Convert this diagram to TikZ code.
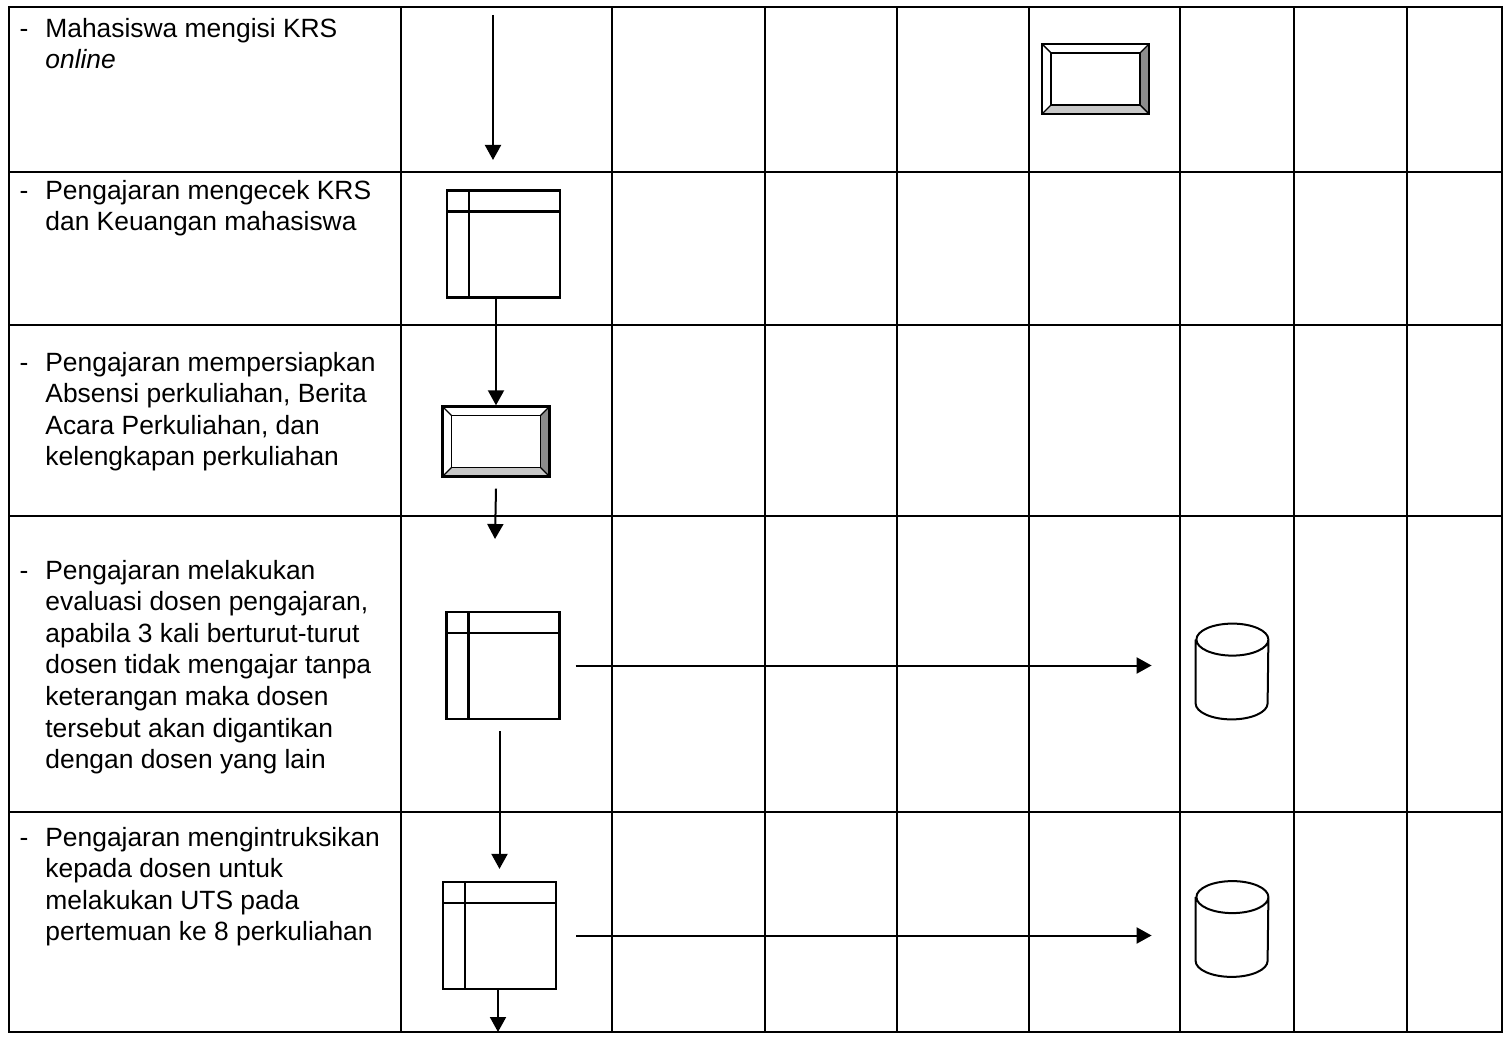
\documentclass[tikz,border=0pt]{standalone}
\usepackage{fontspec}
\setmainfont{Liberation Sans}
\usetikzlibrary{arrows.meta}

% cylinder (data store) drawn on a named node
\newcommand{\dbshape}[1]{%
  \draw[line width=1pt] ([yshift=-8pt]#1.north west) -- ([yshift=8pt]#1.south west)
    arc[start angle=180, end angle=360, x radius=18pt, y radius=8pt]
    -- ([yshift=-8pt]#1.north east)
    arc[start angle=0, end angle=180, x radius=18pt, y radius=8pt]
    arc[start angle=180, end angle=360, x radius=18pt, y radius=8pt];}

\begin{document}
\begin{tikzpicture}[x=0.5pt, y=-0.5pt,
  grid/.style={line width=1.3pt},
  txt/.style={anchor=north west, inner sep=0pt, align=left, font=\fontsize{13.2}{15.8}\selectfont},
  tbl/.style={draw, line width=1.1pt, minimum width=56.5pt, minimum height=53.5pt, inner sep=0pt,
    path picture={
      \draw[line width=1.1pt] ([xshift=11pt]path picture bounding box.north west) -- ([xshift=11pt]path picture bounding box.south west);
      \draw[line width=1.1pt] ([yshift=-10.5pt]path picture bounding box.north west) -- ([yshift=-10.5pt]path picture bounding box.north east);
    }},
  bevel/.style={draw, line width=1.2pt, minimum width=53.5pt, minimum height=35pt, inner sep=0pt,
    path picture={
      \path (path picture bounding box.south west) coordinate (o1) (path picture bounding box.north east) coordinate (o2);
      \path ([shift={(4.5pt,4.5pt)}]o1) coordinate (i1) ([shift={(-4.5pt,-4.5pt)}]o2) coordinate (i2);
      \fill[black!22] (o1) -- (o1 -| o2) -- (i1 -| i2) -- (i1) -- cycle;
      \fill[black!45] (o1 -| o2) -- (o2) -- (i2) -- (i1 -| i2) -- cycle;
      \draw[line width=0.9pt] (i1) rectangle (i2);
      \draw[line width=0.7pt] (o1) -- (i1) (o2) -- (i2) (o1 |- o2) -- (i1 |- i2) (o1 -| o2) -- (i1 -| i2);
    }},
  dbase/.style={minimum width=36pt, minimum height=47.5pt, inner sep=0pt},
  arr/.style={line width=1pt, -{Triangle[length=7.5pt,width=8pt]}}
]
\useasboundingbox (0,0) rectangle (1505,1037);

% table grid
\foreach \gx in {401,612,765,897,1029,1180,1294,1407}
  \draw[grid] (\gx,7) -- (\gx,1032);
\foreach \gy in {172,325,516,812}
  \draw[grid] (9,\gy) -- (1502,\gy);
\draw[grid] (9,7) rectangle (1502,1032);

% steps
\node[txt] (k1) at (45,17.5) {\llap{-\hspace{8.5pt}}Mahasiswa mengisi KRS\\\textit{online}};
\node[txt] (k2) at (45,179.5) {\llap{-\hspace{8.5pt}}Pengajaran mengecek KRS\\dan Keuangan mahasiswa};
\node[txt] (k3) at (45,351.5) {\llap{-\hspace{8.5pt}}Pengajaran mempersiapkan\\Absensi perkuliahan, Berita\\Acara Perkuliahan, dan\\kelengkapan perkuliahan};
\node[txt] (k4) at (45,559.5) {\llap{-\hspace{8.5pt}}Pengajaran melakukan\\evaluasi dosen pengajaran,\\apabila 3 kali berturut-turut\\dosen tidak mengajar tanpa\\keterangan maka dosen\\tersebut akan digantikan\\dengan dosen yang lain};
\node[txt] (k5) at (45,826.5) {\llap{-\hspace{8.5pt}}Pengajaran mengintruksikan\\kepada dosen untuk\\melakukan UTS pada\\pertemuan ke 8 perkuliahan};

% symbols
\node[bevel] (b1) at (1095.5,79) {};
\node[tbl] (t2) at (503.5,244) {};
\node[bevel] (b3) at (496,441.5) {};
\node[tbl] (t4) at (503,665.5) {};
\node[dbase] (d4) at (1232,671.5) {};
\node[tbl] (t5) at (499.5,935.5) {};
\node[dbase] (d5) at (1232,929) {};
\dbshape{d4}
\dbshape{d5}

\coordinate (s1) at (493,15);
\coordinate (e1) at (493,160);
\coordinate (e3) at (495,539);
\coordinate (e5) at (498,1032);

% flow
\draw[arr] (s1) -- (e1);
\draw[arr] (b3.north |- t2.south) -- (b3.north);
\draw[arr] ([yshift=-5.5pt]b3.south) -- (e3);
\draw[arr] ([xshift=7.5pt]t4.east) -- ([xshift=-22pt]t4.east -| d4.west);
\draw[arr] (t4.south -| t5.north) ++(0,11) -- ([yshift=6pt]t5.north);
\draw[arr] (t5.south -| e5) -- (e5);
\draw[arr] ([xshift=9.5pt]t5.east) -- ([xshift=-22pt]t5.east -| d5.west);
\end{tikzpicture}
\end{document}
